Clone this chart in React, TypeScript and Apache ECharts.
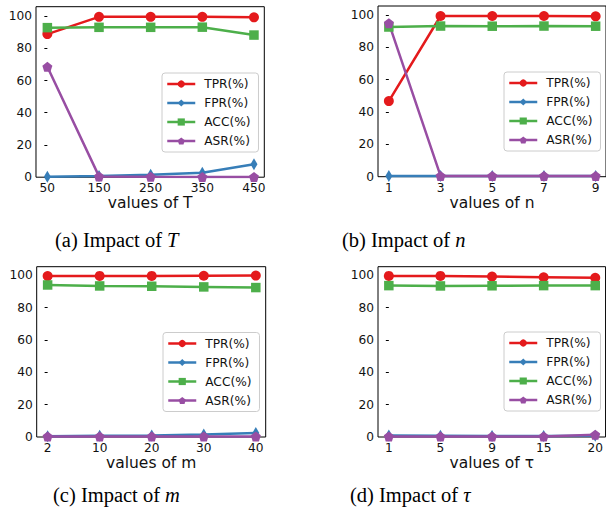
import React, { useEffect, useRef } from "react";
import * as echarts from "echarts";

const T_LABELS = ["50", "150", "250", "350", "450"];
const N_LABELS = ["1", "3", "5", "7", "9"];
const M_LABELS = ["2", "10", "20", "30", "40"];
const TAU_LABELS = ["1", "5", "9", "15", "20"];

const TPR_T = [88.8, 99.5, 99.5, 99.5, 99.2];
const FPR_T = [0.3, 0.8, 1.5, 2.7, 8.1];
const ACC_T = [92.8, 93.0, 93.0, 93.1, 88.2];
const ASR_T = [68.5, 0.5, 0.3, 0.2, 0.2];

const TPR_N = [46.8, 99.4, 99.4, 99.4, 99.2];
const FPR_N = [0.5, 0.5, 0.5, 0.5, 0.5];
const ACC_N = [92.6, 93.2, 93.1, 93.2, 93.1];
const ASR_N = [95.0, 0.5, 0.4, 0.4, 0.4];

const TPR_M = [99.5, 99.6, 99.6, 99.7, 99.8];
const FPR_M = [0.5, 0.8, 1.0, 1.5, 2.4];
const ACC_M = [94.0, 93.4, 93.2, 92.8, 92.4];
const ASR_M = [0.3, 0.3, 0.3, 0.3, 0.3];

const TPR_TAU = [99.6, 99.6, 99.2, 98.8, 98.4];
const FPR_TAU = [1.0, 0.8, 0.6, 0.6, 0.8];
const ACC_TAU = [93.6, 93.4, 93.5, 93.6, 93.6];
const ASR_TAU = [0.3, 0.3, 0.3, 0.3, 1.4];

const Y_TICKS = [0, 20, 40, 60, 80, 100];
const X_IDX = [0, 1, 2, 3, 4];

const COLORS = ["#e41a1c", "#377eb8", "#4daf4a", "#984ea3"];
const NAMES = ["TPR(%)", "FPR(%)", "ACC(%)", "ASR(%)"];
const PENTAGON =
  "path://M0,-1 L0.951,-0.309 L0.588,0.809 L-0.588,0.809 L-0.951,-0.309 Z";
const SYMBOLS: any[] = ["circle", "diamond", "rect", PENTAGON];
const SIZES: any[] = [10, [7, 12], 9.5, 10];

const FONT = "DejaVu Sans";

const PANELS = [
  {
    labels: T_LABELS,
    axisName: "values of T",
    series: [TPR_T, FPR_T, ACC_T, ASR_T],
    grid: { left: 36, top: 6.7, width: 228.3, height: 170.5 },
    yMax: 105.8,
    xMin: -0.22,
    xMax: 4.2,
    legend: { left: 162, top: 73 },
  },
  {
    labels: N_LABELS,
    axisName: "values of n",
    series: [TPR_N, FPR_N, ACC_N, ASR_N],
    grid: { left: 378, top: 6, width: 229, height: 170.7 },
    yMax: 105.6,
    xMin: -0.21,
    xMax: 4.2,
    legend: { left: 504, top: 72 },
  },
  {
    labels: M_LABELS,
    axisName: "values of m",
    series: [TPR_M, FPR_M, ACC_M, ASR_M],
    grid: { left: 36.7, top: 266.7, width: 229, height: 170.3 },
    yMax: 105.3,
    xMin: -0.21,
    xMax: 4.19,
    legend: { left: 163, top: 332.5 },
  },
  {
    labels: TAU_LABELS,
    axisName: "values of τ",
    series: [TPR_TAU, FPR_TAU, ACC_TAU, ASR_TAU],
    grid: { left: 378, top: 266.7, width: 229, height: 170.3 },
    yMax: 105.3,
    xMin: -0.21,
    xMax: 4.2,
    legend: { left: 504, top: 332 },
  },
];

const CAPTIONS = [
  { pre: "(a) Impact of ", it: "T", x: 55, y: 241 },
  { pre: "(b) Impact of ", it: "n", x: 342, y: 241 },
  { pre: "(c) Impact of ", it: "m", x: 53, y: 496 },
  { pre: "(d) Impact of ", it: "τ", x: 350, y: 496 },
];

export default function App() {
  const ref = useRef<HTMLDivElement>(null);
  useEffect(() => {
    if (!ref.current) return;
    const chart = echarts.init(ref.current, undefined, { renderer: "svg" });

    const grids: any[] = [];
    const xAxes: any[] = [];
    const yAxes: any[] = [];
    const series: any[] = [];
    const legends: any[] = [];

    PANELS.forEach((p, gi) => {
      grids.push({
        ...p.grid,
        show: true,
        borderColor: "#000",
        borderWidth: 1,
        backgroundColor: "transparent",
      });
      xAxes.push({
        type: "value",
        gridIndex: gi,
        min: p.xMin,
        max: p.xMax,
        splitLine: { show: false },
        axisLine: { show: false },
        axisTick: {
          show: true,
          length: 3,
          inside: false,
          customValues: X_IDX,
          lineStyle: { color: "#000", width: 1 },
        },
        axisLabel: {
          customValues: X_IDX,
          formatter: (v: number) => p.labels[Math.round(v)] ?? "",
          fontSize: 12.2,
          fontFamily: FONT,
          color: "#111",
          margin: 5,
        },
        name: p.axisName,
        nameLocation: "middle",
        nameGap: 14,
        nameTextStyle: { fontSize: 15.5, fontFamily: FONT, color: "#111" },
      });
      yAxes.push({
        type: "value",
        gridIndex: gi,
        min: 0,
        max: p.yMax,
        splitLine: { show: false },
        axisLine: { show: false },
        axisTick: {
          show: true,
          length: 3,
          inside: false,
          customValues: Y_TICKS,
          lineStyle: { color: "#000", width: 1 },
        },
        axisLabel: {
          customValues: Y_TICKS,
          fontSize: 12.2,
          fontFamily: FONT,
          color: "#111",
          margin: 4,
        },
      });
      p.series.forEach((vals, si) => {
        series.push({
          type: "line",
          name: NAMES[si],
          xAxisIndex: gi,
          yAxisIndex: gi,
          data: vals.map((v, i) => [X_IDX[i], v]),
          symbol: SYMBOLS[si],
          symbolSize: SIZES[si],
          showAllSymbol: true,
          color: COLORS[si],
          lineStyle: { width: 2.5, color: COLORS[si] },
          itemStyle: { color: COLORS[si] },
          emphasis: { disabled: true },
          clip: true,
        });
      });
      legends.push({
        data: NAMES,
        orient: "vertical",
        left: p.legend.left,
        top: p.legend.top,
        itemWidth: 28,
        itemHeight: 9,
        itemGap: 7,
        padding: [5, 8, 5, 4],
        backgroundColor: "rgba(255,255,255,0.85)",
        borderColor: "#cccccc",
        borderWidth: 1,
        borderRadius: 3,
        selectedMode: false,
        lineStyle: { width: 2.5 },
        textStyle: {
          fontSize: 12.2,
          fontFamily: FONT,
          color: "#111",
          padding: [0, 0, 0, 4],
        },
      });
    });

    const graphics = CAPTIONS.map((c) => ({
      type: "text",
      left: c.x,
      top: c.y - 12,
      style: {
        text: `{n|${c.pre}}{i|${c.it}}`,
        rich: {
          n: {
            fontFamily: "Liberation Serif",
            fontSize: 20.5,
            fill: "#000",
          },
          i: {
            fontFamily: "Liberation Serif",
            fontStyle: "italic",
            fontSize: 20.5,
            fill: "#000",
          },
        },
      },
    }));

    chart.setOption({
      animation: false,
      backgroundColor: "#fff",
      grid: grids,
      xAxis: xAxes,
      yAxis: yAxes,
      legend: legends,
      series,
      graphic: graphics,
    });
    return () => chart.dispose();
  }, []);
  return (
    <div
      ref={ref}
      style={{ position: "absolute", left: 0, top: 0, width: 606, height: 519 }}
    />
  );
}
